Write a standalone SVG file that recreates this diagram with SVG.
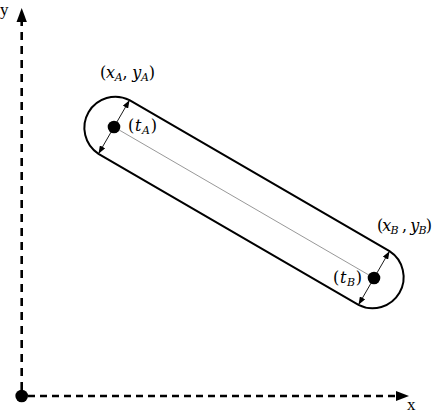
<svg xmlns="http://www.w3.org/2000/svg" width="434" height="414" viewBox="0 0 434 414">
<defs>
<style>
.axis{stroke:#000;stroke-width:2.6;fill:none}
.head{fill:#000;stroke:none}
.cap{fill:none;stroke:#000;stroke-width:2}
.mid{stroke:#8c8c8c;stroke-width:0.9;fill:none}
.rad{stroke:#000;stroke-width:0.9;fill:none}
.lbl{font-family:"DejaVu Serif","Liberation Serif",serif;font-size:16px;fill:#000}
.it{font-style:italic}
.sub{font-size:11px;font-style:italic}
.axlbl{font-family:"Liberation Serif","Times New Roman",serif;font-size:17px;fill:#000}
</style>
<marker id="tip" viewBox="0 0 8 6" refX="8" refY="3" markerWidth="8" markerHeight="6" markerUnits="userSpaceOnUse" orient="auto">
<path d="M0,0 L8,3 L0,6 Z" fill="#000"/>
</marker>
</defs>
<rect width="434" height="414" fill="#fff"/>
<g id="connectors">
<line class="axis" x1="21.7" y1="390" x2="21.7" y2="22" stroke-dasharray="8 6"/>
<polygon class="head" points="21.7,8 16.5,22 26.9,22"/>
<line class="axis" x1="28" y1="396" x2="396" y2="396" stroke-dasharray="7 5"/>
<polygon class="head" points="409,396 396,391 396,401"/>
<line class="mid" x1="114" y1="127" x2="374" y2="278"/>
<line class="rad" x1="114" y1="127" x2="129.5" y2="100.2" marker-end="url(#tip)"/>
<line class="rad" x1="114" y1="127" x2="98.5" y2="153.8" marker-end="url(#tip)"/>
<line class="rad" x1="374" y1="278" x2="389.5" y2="251.2" marker-end="url(#tip)"/>
<line class="rad" x1="374" y1="278" x2="358.5" y2="304.8" marker-end="url(#tip)"/>
</g>
<g id="origin">
<circle cx="21.7" cy="396" r="6.3" fill="#000"/>
</g>
<g id="axis-labels">
<text class="axlbl" x="0" y="15">y</text>
<text class="axlbl" x="407" y="410">x</text>
</g>
<g id="capsule">
<path class="cap" d="M129.5,100.2 L389.5,251.2 A31,31 0 0 1 358.5,304.8 L98.5,153.8 A31,31 0 0 1 129.5,100.2 Z"/>
</g>
<g id="pointA">
<circle cx="114" cy="127" r="6.3" fill="#000"/>
<text class="lbl" x="100" y="78" textLength="55" lengthAdjust="spacing">(<tspan class="it">x</tspan><tspan class="sub" dy="3">A</tspan><tspan dy="-3">, </tspan><tspan class="it">y</tspan><tspan class="sub" dy="3">A</tspan><tspan dy="-3">)</tspan></text>
<text class="lbl" x="128" y="131" textLength="29" lengthAdjust="spacing">(<tspan class="it">t</tspan><tspan class="sub" dy="3">A</tspan><tspan dy="-3">)</tspan></text>
</g>
<g id="pointB">
<circle cx="374" cy="278" r="6.3" fill="#000"/>
<text class="lbl" x="377" y="231" textLength="55" lengthAdjust="spacing">(<tspan class="it">x</tspan><tspan class="sub" dy="3">B</tspan><tspan dy="-3"> , </tspan><tspan class="it">y</tspan><tspan class="sub" dy="3">B</tspan><tspan dy="-3">)</tspan></text>
<text class="lbl" x="333" y="283" textLength="29" lengthAdjust="spacing">(<tspan class="it">t</tspan><tspan class="sub" dy="3">B</tspan><tspan dy="-3">)</tspan></text>
</g>
</svg>
